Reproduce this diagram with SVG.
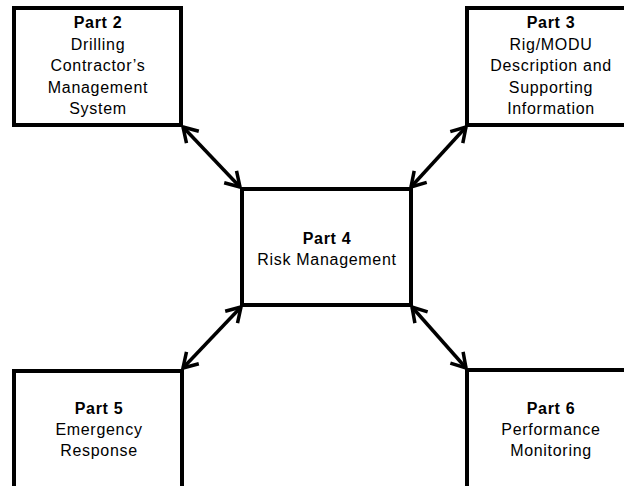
<svg xmlns="http://www.w3.org/2000/svg" width="624" height="486" viewBox="0 0 624 486">
<style>
.box{fill:#fff;stroke:#000;stroke-width:4}
text{font-family:"Liberation Sans",Arial,sans-serif;font-size:16px;letter-spacing:0.7px;text-anchor:middle;fill:#000}
.b{font-weight:bold}
.c{fill:none;stroke:#000;stroke-width:3.5;marker-start:url(#ah);marker-end:url(#ah)}
</style>
<defs>
<marker id="ah" markerUnits="userSpaceOnUse" viewBox="-18 -12 21 24" refX="0" refY="0" markerWidth="21" markerHeight="24" orient="auto-start-reverse">
<path d="M-14,-8.5 L0,0 L-14,8.5" fill="none" stroke="#000" stroke-width="3.5" stroke-linejoin="miter"/>
</marker>
</defs>
<rect width="624" height="486" fill="#fff"/>
<g id="connectors">
<line class="c" x1="183" y1="127" x2="240" y2="187"/>
<line class="c" x1="466" y1="127" x2="411" y2="187"/>
<line class="c" x1="241" y1="307" x2="183" y2="368"/>
<line class="c" x1="412" y1="307" x2="466" y2="368"/>
</g>
<g id="part2">
<rect class="box" x="14" y="8" width="167" height="117"/>
<text x="98" y="28" class="b">Part 2</text>
<text x="98" y="49.5">Drilling</text>
<text x="98" y="71">Contractor’s</text>
<text x="98" y="92.5">Management</text>
<text x="98" y="114">System</text>
</g>
<g id="part3">
<rect class="box" x="467" y="8" width="170" height="117"/>
<text x="551" y="28" class="b">Part 3</text>
<text x="551" y="49.5">Rig/MODU</text>
<text x="551" y="71">Description and</text>
<text x="551" y="92.5">Supporting</text>
<text x="551" y="114">Information</text>
</g>
<g id="part4">
<rect class="box" x="242" y="189" width="169" height="116"/>
<text x="327" y="244" class="b">Part 4</text>
<text x="327" y="264.5">Risk Management</text>
</g>
<g id="part5">
<rect class="box" x="14" y="371" width="168" height="117"/>
<text x="99" y="414" class="b">Part 5</text>
<text x="99" y="435">Emergency</text>
<text x="99" y="456">Response</text>
</g>
<g id="part6">
<rect class="box" x="467" y="370" width="170" height="118"/>
<text x="551" y="414" class="b">Part 6</text>
<text x="551" y="435">Performance</text>
<text x="551" y="456">Monitoring</text>
</g>
</svg>
